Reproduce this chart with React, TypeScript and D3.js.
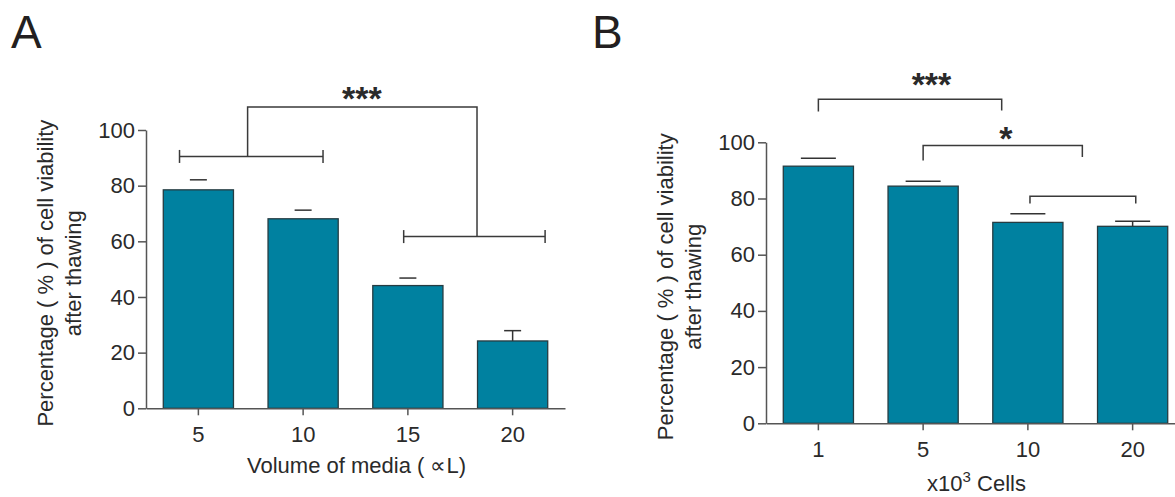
import React, { useEffect, useRef } from "react";
import * as d3 from "d3";

// panel A: volume of media
const volumeLabels = ["5", "10", "15", "20"];
const volumeMeans = [78.5, 68.1, 44.1, 24.2];
const volumeErrors = [3.6, 3.1, 2.7, 3.7];

// panel B: cell number
const cellLabels = ["1", "5", "10", "20"];
const cellMeans = [91.5, 84.4, 71.5, 70.1];
const cellErrors = [2.8, 1.7, 3.1, 1.8];

const yTicks = [0, 20, 40, 60, 80, 100];

// significance brackets, x in category index units, y in %
const volumeBrackets = [
  { kind: "ibeam", x0: -0.18, x1: 1.19, y: 90.5 },
  { kind: "ibeam", x0: 1.96, x1: 3.31, y: 61.7 },
  { kind: "link", x0: 0.47, x1: 2.66, y: 108.3, y0: 90.5, y1: 61.7 },
];
const volumeStars = [{ x: 1.56, y: 113.9, text: "***" }];

const cellBrackets = [
  { kind: "link", x0: 0, x1: 1.75, y: 115.3, y0: 111, y1: 111.3 },
  { kind: "link", x0: 1.0, x1: 2.52, y: 98.9, y0: 93.5, y1: 94.8 },
  { kind: "link", x0: 2.02, x1: 3.03, y: 80.8, y0: 78.2, y1: 78.2 },
];
const cellStars = [
  { x: 1.08, y: 123.1, text: "***" },
  { x: 1.79, y: 104, text: "*" },
];

const FONT = "'Liberation Sans', Arial, sans-serif";
const BAR_FILL = "#0081a0";
const BAR_STROKE = "#263c42";
const AXIS = "#555";
const INK = "#2a2a2a";

type Bracket = { kind: string; x0: number; x1: number; y: number; y0?: number; y1?: number };

function Panel({ labels, means, errors, brackets, stars, x0, x1, yTop, yBottom, capW, stems, letter, letterX, title }: any) {
  const axisRef = useRef<SVGGElement>(null);

  const y = d3.scaleLinear().domain([0, 100]).range([yBottom, yTop]);
  const x = d3.scaleBand<string>().domain(labels).range([x0, x1]).paddingInner(0.33).paddingOuter(0.165);
  const bw = x.bandwidth();
  const step = x.step();
  const cx = (i: number) => (x(labels[0]) as number) + bw / 2 + i * step;

  useEffect(() => {
    const g = d3.select(axisRef.current);
    g.selectAll("*").remove();
    const yAxis = g.append("g").attr("transform", `translate(${x0},0)`)
      .call(d3.axisLeft(y).tickValues(yTicks).tickSize(8).tickSizeOuter(0).tickPadding(3));
    const xAxis = g.append("g").attr("transform", `translate(0,${yBottom})`)
      .call(d3.axisBottom(x).tickSize(7).tickSizeOuter(0).tickPadding(6));
    [yAxis, xAxis].forEach((a) => {
      a.selectAll("path, line").attr("stroke", AXIS).attr("stroke-width", 1.5);
      a.selectAll("text").attr("fill", INK).attr("font-size", 22).attr("font-family", FONT);
    });
    xAxis.selectAll("text").attr("dy", "0.95em");
  }, []);

  const midY = (yTop + yBottom) / 2;
  const midX = (x0 + x1) / 2;

  return (
    <g>
      <text x={letterX} y={48} fontSize={46} fontFamily={FONT} fill="#231f20">{letter}</text>
      {labels.map((l: string, i: number) => (
        <rect key={l} x={x(l)} y={y(means[i])} width={bw} height={y(0) - y(means[i])}
          fill={BAR_FILL} stroke={BAR_STROKE} strokeWidth={1.3} />
      ))}
      {labels.map((l: string, i: number) => {
        const c = cx(i);
        const top = y(means[i] + errors[i]);
        return (
          <g key={"e" + l} stroke="#333" strokeWidth={1.5}>
            <line x1={c - capW / 2} x2={c + capW / 2} y1={top} y2={top} />
            {stems.includes(i) && <line x1={c} x2={c} y1={top} y2={y(means[i])} />}
          </g>
        );
      })}
      <g ref={axisRef} />
      {brackets.map((b: Bracket, k: number) => {
        const xa = cx(b.x0), xb = cx(b.x1), yy = y(b.y);
        if (b.kind === "ibeam") {
          return (
            <g key={k} stroke="#3a3a3a" strokeWidth={1.5}>
              <line x1={xa} x2={xb} y1={yy} y2={yy} />
              <line x1={xa} x2={xa} y1={yy - 6.5} y2={yy + 6.5} />
              <line x1={xb} x2={xb} y1={yy - 6.5} y2={yy + 6.5} />
            </g>
          );
        }
        return (
          <path key={k} fill="none" stroke="#3a3a3a" strokeWidth={1.5}
            d={`M${xa},${y(b.y0 as number)}V${yy}H${xb}V${y(b.y1 as number)}`} />
        );
      })}
      {stars.map((s: any, k: number) => (
        <text key={"s" + k} x={cx(s.x)} y={y(s.y) + 19} textAnchor="middle" fontSize={34}
          fontWeight="bold" fontFamily={FONT} fill={INK}>{s.text}</text>
      ))}
      <text transform={`translate(${x0 - 93},${midY + 4}) rotate(-90)`} textAnchor="middle"
        fontSize={22} fontFamily={FONT} fill={INK}>Percentage ( % ) of cell viability</text>
      <text transform={`translate(${x0 - 65},${midY + 4}) rotate(-90)`} textAnchor="middle"
        fontSize={22} fontFamily={FONT} fill={INK}>after thawing</text>
      <text x={midX + 1} y={yBottom + title.dy} textAnchor="middle" fontSize={22} fontFamily={FONT} fill={INK}>
        {title.parts.map((p: any, k: number) => (
          <tspan key={k} dy={p.dy || 0} fontSize={p.size || 22}>{p.t}</tspan>
        ))}
      </text>
    </g>
  );
}

export default function App() {
  return (
    <svg width={1175} height={497} style={{ position: "absolute", left: 0, top: 0, background: "#fff" }}>
      <Panel labels={volumeLabels} means={volumeMeans} errors={volumeErrors}
        brackets={volumeBrackets} stars={volumeStars}
        x0={146} x1={565} yTop={130} yBottom={408.3} capW={17} stems={[3]}
        letter="A" letterX={11}
        title={{ dy: 65, parts: [{ t: "Volume of media ( ∝L)" }] }} />
      <Panel labels={cellLabels} means={cellMeans} errors={cellErrors}
        brackets={cellBrackets} stars={cellStars}
        x0={766} x1={1185} yTop={142.3} yBottom={423.3} capW={35} stems={[3]}
        letter="B" letterX={592}
        title={{ dy: 68, parts: [{ t: "x10" }, { t: "3", dy: -9, size: 15 }, { t: " Cells", dy: 9 }] }} />
    </svg>
  );
}
